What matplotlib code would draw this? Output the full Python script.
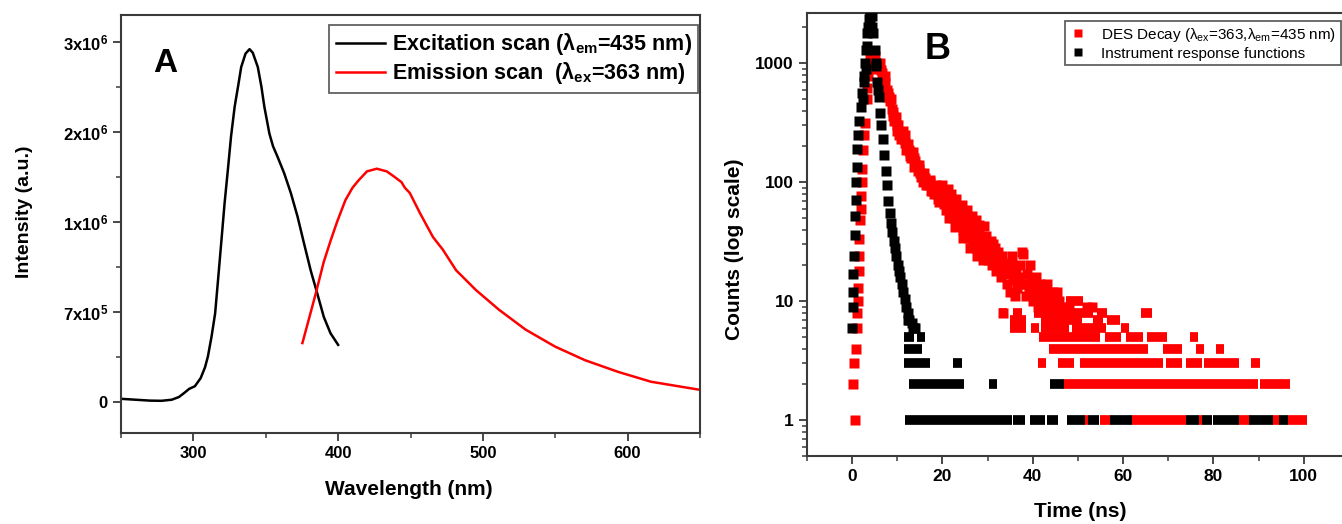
import matplotlib
matplotlib.use('Agg')
import matplotlib.pyplot as plt
from matplotlib import ticker

plt.rcParams['font.family'] = ['Liberation Sans', 'DejaVu Sans']
plt.rcParams['mathtext.fontset'] = 'custom'
plt.rcParams['mathtext.rm'] = 'Liberation Sans'
plt.rcParams['mathtext.bf'] = 'Liberation Sans:bold'
plt.rcParams['mathtext.it'] = 'Liberation Sans:italic'

# ---- panel A : excitation / emission spectra (y in axis tick units) ----
exc_wl = [250, 260, 270, 278, 285, 290, 294, 297, 301, 305, 308, 310, 312.5, 315,
          317, 319.4, 321.5, 324, 326, 328.5, 331, 333, 336, 338.8, 341, 344.5,
          347, 349, 352.5, 355, 358.2, 362.7, 367.3, 371.9, 376.4, 381, 385.6,
          390.1, 394.7, 400]
exc_int = [0.03, 0.02, 0.01, 0.008, 0.02, 0.05, 0.10, 0.14, 0.17, 0.26, 0.38, 0.50,
           0.72, 0.98, 1.35, 1.80, 2.20, 2.61, 2.95, 3.28, 3.52, 3.72, 3.87, 3.92,
           3.88, 3.72, 3.50, 3.28, 2.98, 2.84, 2.72, 2.54, 2.32, 2.06, 1.76, 1.46,
           1.20, 0.94, 0.76, 0.63]

emi_wl = [375.3, 380, 384.5, 390, 395, 399.3, 405, 410, 414.1, 419.9, 426.7, 433.6,
          438, 443.8, 446, 449.5, 456.4, 465.5, 472.3, 481.5, 495.2, 511.2, 529.5,
          550, 570.5, 593.4, 616.2, 650]
emi_int = [0.65, 0.93, 1.20, 1.55, 1.80, 2.00, 2.24, 2.38, 2.46, 2.56, 2.59, 2.56,
           2.51, 2.44, 2.38, 2.32, 2.10, 1.83, 1.69, 1.46, 1.24, 1.02, 0.80, 0.61,
           0.46, 0.33, 0.22, 0.13]

a_yticks = [0, 1, 2, 3, 4]
a_ylabels = ['0', '7x10$^{\\mathbf{5}}$', '1x10$^{\\mathbf{6}}$',
             '2x10$^{\\mathbf{6}}$', '3x10$^{\\mathbf{6}}$']

# ---- panel B : decay (red) and IRF (black), counts vs time (ns) ----
decay_t = [0.7, 0.25, 0.45, 0.9, 1.1, 1.1, 1.2, 1.4, 1.45, 1.5, 1.6, 1.8, 1.9, 2.0,
           2.1, 2.2, 2.35, 2.6, 2.9, 3.2, 3.4, 3.6, 3.8, 3.95,
           4.3, 4.7, 5.1, 5.5, 5.9, 6.3, 6.6, 7.0, 7.3, 7.7, 8.0, 8.4, 8.8, 9.1,
           9.5, 9.9, 10.2, 10.6, 11.0, 11.4, 11.8, 12.2, 12.6, 12.9, 13.3, 13.7,
           14.0, 14.4, 14.8, 15.1, 15.5, 15.8, 16.2, 16.6, 17.0, 17.3, 17.7, 18.0,
           18.4, 18.8, 19.1, 19.5, 19.9, 20.2,
           8.2, 9.3, 10.4, 11.2, 12.0, 13.0, 13.8, 14.6, 15.6, 16.4, 17.4, 18.2, 19.2,
           5.0, 5.6, 6.1, 6.8, 7.2, 7.9, 8.6, 9.0, 9.7, 10.0, 10.8, 11.6, 12.4,
           12.8, 13.5, 14.2, 14.9, 15.3, 16.0, 16.8, 17.2, 17.9, 18.6, 19.0, 19.7,
           20.0, 21.2, 22.0, 23.0, 24.4, 25.4, 26.6, 27.4,
           21.4, 22.8, 24.6, 26.2, 27.6, 29.0,
           20.4, 21.9, 23.6, 25.1, 26.9, 28.1, 29.9, 31.1, 32.9, 34.4, 36.1, 37.4,
           39.0, 40.8, 42.2, 43.9, 45.0,
           20.6, 20.8, 21.0, 21.3, 21.6, 21.8, 22.1, 22.4, 22.6, 22.9, 23.2, 23.4,
           23.7, 24.0, 24.2, 24.5, 24.8, 25.0, 25.3, 25.6, 25.9, 26.1, 26.4, 26.7,
           27.0, 27.2, 27.5, 27.8, 28.0, 28.3, 28.6, 28.9, 29.1, 29.4, 29.7, 30.0,
           30.2, 30.5, 30.8, 31.0, 31.3, 31.6, 31.9, 32.1, 32.4, 32.7, 33.0, 33.2,
           33.5, 33.8, 34.1, 34.3, 34.6, 34.9, 35.2, 35.4, 35.7, 36.0, 36.3, 36.6,
           36.9, 37.2, 37.6, 37.9, 38.2, 38.5, 38.8, 39.1, 39.4, 39.7, 40.0, 40.3,
           40.6, 40.9, 41.2, 41.5, 41.8, 42.1, 42.4, 42.7, 43.1, 43.4, 43.7, 44.0,
           44.4, 44.8, 45.3, 45.8, 46.5, 48.0, 52.0, 53.0]
decay_c = [1, 2, 3, 4, 6, 8, 10, 13, 18, 24, 33, 48, 60, 76,
           100, 128, 188, 250, 316, 498, 620, 780, 950, 1150,
           1100, 1050, 1000, 980, 960, 880, 830, 740, 680, 600, 560, 480, 410, 390,
           340, 300, 300, 265, 250, 230, 215, 200, 185, 178, 165, 160,
           150, 136, 130, 120, 118, 112, 108, 103, 98, 100, 92, 92,
           85, 88, 80, 78, 74, 76,
           520, 330, 250, 270, 185, 160, 135, 125, 100, 95, 85, 80, 68,
           1150, 900, 1000, 700, 780, 520, 500, 360, 350, 270, 230, 250, 210,
           165, 180, 140, 140, 110, 120, 95, 105, 84, 95, 72, 85,
           95, 88, 80, 72, 64, 58, 52, 48,
           50, 42, 34, 28, 24, 22,
           66, 62, 58, 50, 42, 38, 28, 30, 22, 19, 16, 14,
           14, 12, 11, 10, 11,
           70, 58, 82, 64, 60, 72, 55, 66, 50, 58, 62, 46,
           52, 44, 56, 40, 50, 36, 45, 42, 34, 48, 38, 30,
           40, 34, 28, 36, 44, 30, 25, 33, 43, 28, 35, 22,
           30, 26, 32, 20, 24, 28, 18, 22, 26, 20, 16, 24,
           8, 18, 21, 14, 17, 12, 20, 24, 15, 11, 18, 13,
           16, 20, 26, 25, 14, 11, 17, 12, 20, 15, 10, 13,
           16, 11, 9, 14, 12, 10, 9, 13, 14, 10, 9, 11,
           12, 9, 12, 10, 9, 9, 9, 9]

irf_t = [0.0, 0.2, 0.1, 0.3, 0.4, 0.55, 0.7, 0.75, 0.9, 1.0, 1.1, 1.3, 1.6, 1.9,
         2.2, 2.55, 2.85, 3.1, 3.4, 3.65, 3.9, 4.2,
         4.4, 4.7, 5.0, 5.3, 5.6, 5.9, 6.2, 6.5, 6.8, 7.1, 7.4, 7.7, 8.0, 8.3,
         8.6, 8.9, 9.2, 9.5, 9.8, 10.1, 10.4, 10.7, 11.0, 11.3, 11.6, 11.9, 12.3,
         12.7, 13.2, 13.6, 12.4, 13.4, 14.0,
         2.4, 2.7, 3.0, 3.3, 3.6, 4.0, 4.5, 5.2, 5.8]
irf_c = [6, 9, 12, 17, 24, 36, 52, 71, 100, 135, 190, 250, 330, 430,
         560, 780, 1000, 1300, 1800, 2340, 2700, 2700,
         2500, 1800, 1300, 950, 700, 520, 380, 300, 230, 170, 125, 95, 70, 55,
         45, 38, 32, 28, 24, 20, 18, 16, 14, 12, 10.5, 9, 8,
         7, 6.5, 6, 7, 6, 6,
         500, 700, 900, 1400, 2000, 2400, 2000, 1000, 600]

# flat runs of equal counts: (count, t_start, t_end) edge to edge
decay_runs = [(1, 51.6, 52.3), (1, 54.9, 57.0), (1, 61.9, 73.9), (1, 76.8, 77.4),
              (1, 85.7, 87.9), (1, 93.1, 94.6), (1, 96.6, 100.8),
              (2, 46.9, 89.8), (2, 90.2, 96.9),
              (3, 41.1, 43.0), (3, 45.5, 49.2), (3, 50.5, 68.8), (3, 69.4, 73.1),
              (3, 73.9, 77.4), (3, 78.0, 85.7), (3, 88.3, 90.2),
              (4, 43.5, 65.4), (4, 68.9, 73.0), (4, 76.2, 77.9), (4, 80.6, 82.4),
              (5, 41.3, 54.8), (5, 55.9, 59.5), (5, 60.6, 64.3), (5, 65.2, 69.7),
              (5, 74.7, 76.5),
              (6, 35.0, 38.5), (6, 39.6, 41.3), (6, 41.8, 48.1), (6, 48.6, 56.2),
              (6, 59.6, 61.4),
              (7, 35.0, 38.5), (7, 41.8, 50.9), (7, 53.4, 55.6), (7, 56.4, 59.3),
              (8, 32.6, 34.4), (8, 35.7, 37.6), (8, 40.2, 53.4), (8, 54.2, 56.4),
              (8, 63.9, 66.4),
              (10, 47.4, 51.2)]
irf_runs = [(1, 11.8, 35.4), (1, 35.7, 38.3), (1, 39.4, 42.7), (1, 43.1, 45.5),
            (1, 47.5, 51.6), (1, 52.3, 54.7), (1, 57.0, 61.9), (1, 73.9, 76.8),
            (1, 77.4, 79.6), (1, 80.0, 85.7), (1, 87.9, 93.1), (1, 94.6, 96.6),
            (2, 12.7, 24.7), (2, 30.2, 32.0), (2, 43.7, 46.9),
            (3, 11.4, 17.3), (3, 22.4, 24.3),
            (4, 11.4, 15.5),
            (5, 11.5, 13.6), (5, 14.4, 16.2)]

SPINE = '#3a3a3a'
MS = 7.0


def style_axes(ax):
    for s in ax.spines.values():
        s.set_color(SPINE)
        s.set_linewidth(1.5)
    ax.tick_params(which='major', direction='out', length=6, width=1.3, color=SPINE)
    ax.tick_params(which='minor', direction='out', length=3.5, width=1.1, color=SPINE)


def draw_runs(ax, runs, color):
    cnt = [r[0] for r in runs]
    t0 = [r[1] for r in runs]
    t1 = [r[2] for r in runs]
    lc = ax.hlines(cnt, t0, t1, colors=color, linewidth=MS, zorder=3)
    lc.set_capstyle('butt')


fig = plt.figure(figsize=(13.42, 5.24), dpi=100)

# ---------------- panel A ----------------
ax1 = fig.add_axes([0.0902, 0.1737, 0.4314, 0.7977])
ax1.plot(exc_wl, exc_int, color='black', lw=1.8,
         label='Excitation scan (λ$_{\\mathbf{em}}$=435 nm)')
ax1.plot(emi_wl, emi_int, color='#ff0000', lw=1.8,
         label='Emission scan  (λ$_{\\mathbf{ex}}$=363 nm)')
ax1.set_xlim(250, 650)
ax1.set_ylim(-0.35, 4.3)
ax1.set_xticks([300, 400, 500, 600])
ax1.xaxis.set_minor_locator(ticker.MultipleLocator(50))
ax1.set_yticks(a_yticks, labels=a_ylabels)
ax1.yaxis.set_minor_locator(ticker.MultipleLocator(0.5))
style_axes(ax1)
for lab in ax1.get_xticklabels() + ax1.get_yticklabels():
    lab.set_fontweight('bold')
    lab.set_fontsize(12)
ax1.set_xlabel('Wavelength (nm)', fontsize=15, fontweight='bold')
ax1.xaxis.set_label_coords(0.497, -0.112)
ax1.set_ylabel('Intensity (a.u.)', fontsize=14, fontweight='bold')
ax1.yaxis.set_label_coords(-0.152, 0.53)
ax1.text(0.076, 0.885, 'A', transform=ax1.transAxes, fontsize=24,
         fontweight='bold', ha='center', va='center')
leg1 = ax1.legend(loc='upper right', bbox_to_anchor=(698 / 1342, 1 - 25 / 524),
                  bbox_transform=fig.transFigure, borderaxespad=0,
                  prop={'weight': 'bold', 'size': 15.5}, frameon=True,
                  fancybox=False, handlelength=2.3, handletextpad=0.3,
                  labelspacing=0.12, borderpad=0.3)
leg1.get_frame().set_edgecolor(SPINE)
leg1.get_frame().set_linewidth(1.3)

# ---------------- panel B ----------------
ax2 = fig.add_axes([0.6013, 0.1298, 0.4039, 0.846])
ax2.set_yscale('log')
draw_runs(ax2, decay_runs, '#ff0000')
red, = ax2.plot(decay_t, decay_c, 's', color='#ff0000', ms=MS, mec='none', zorder=3,
                label='DES Decay (λ$_{\\mathrm{ex}}$=363,λ$_{\\mathrm{em}}$=435 nm)')
draw_runs(ax2, irf_runs, 'black')
blk, = ax2.plot(irf_t, irf_c, 's', color='black', ms=MS, mec='none', zorder=4,
                label='Instrument response functions')
ax2.set_xlim(-10, 110)
ax2.set_ylim(0.5, 2660)
ax2.set_xticks([0, 20, 40, 60, 80, 100])
ax2.xaxis.set_minor_locator(ticker.MultipleLocator(10))
ax2.set_yticks([1, 10, 100, 1000], labels=['1', '10', '100', '1000'])
ax2.yaxis.set_minor_locator(ticker.LogLocator(base=10, subs=range(2, 10)))
ax2.yaxis.set_minor_formatter(ticker.NullFormatter())
style_axes(ax2)
for lab in ax2.get_xticklabels() + ax2.get_yticklabels():
    lab.set_fontweight('bold')
    lab.set_fontsize(12.5)
ax2.set_xlabel('Time (ns)', fontsize=15, fontweight='bold')
ax2.xaxis.set_label_coords(0.504, -0.104)
ax2.set_ylabel('Counts (log scale)', fontsize=15, fontweight='bold')
ax2.yaxis.set_label_coords(-0.116, 0.467)
ax2.text(0.242, 0.917, 'B', transform=ax2.transAxes, fontsize=26,
         fontweight='bold', ha='center', va='center')
leg2 = ax2.legend(handles=[red, blk], loc='upper right',
                  bbox_to_anchor=(1341 / 1342, 1 - 21 / 524),
                  bbox_transform=fig.transFigure, borderaxespad=0,
                  prop={'size': 11}, frameon=True,
                  fancybox=False, handlelength=1.2, handletextpad=0.9,
                  labelspacing=0.2, borderpad=0.3, markerscale=0.85)
leg2.get_frame().set_edgecolor(SPINE)
leg2.get_frame().set_linewidth(1.3)

fig.savefig('out.png', dpi=100)
